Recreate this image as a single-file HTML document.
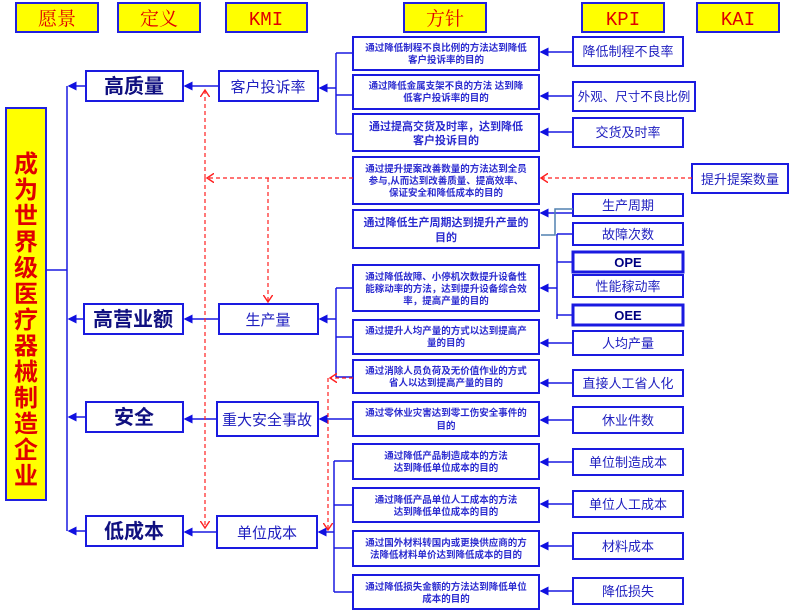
<!DOCTYPE html>
<html><head><meta charset="utf-8"><style>
body{margin:0;background:#fff}
svg{display:block}
text{font-family:"Liberation Sans","Noto Sans CJK SC",sans-serif}
.p{font-size:9.5px;fill:#2b2bd0;font-weight:bold;text-anchor:middle}
.k{font-size:13px;fill:#2020c0;text-anchor:middle}
.m{font-size:15px;fill:#2020c0;text-anchor:middle}
.d{font-size:20px;fill:#101080;font-weight:bold;text-anchor:middle}
.h{font-size:19px;fill:#e00000;text-anchor:middle;font-family:"Liberation Mono","Noto Serif CJK SC",serif}
</style></head><body>
<svg width="793" height="614" viewBox="0 0 793 614">
<defs>
<marker id="a" markerWidth="6" markerHeight="6" refX="5" refY="3" orient="auto"><path d="M0,0 L6,3 L0,6z" fill="#1010e0"/></marker>
<marker id="r" markerWidth="8" markerHeight="8" refX="6" refY="4" orient="auto"><path d="M0,0 L6,4 L0,8" fill="none" stroke="#ff2020" stroke-width="1.2"/></marker>
</defs>
<g fill="#ffff00" stroke="#2020e0" stroke-width="2">
<rect x="16" y="3" width="82" height="29"/><rect x="118" y="3" width="82" height="29"/><rect x="226" y="3" width="81" height="29"/><rect x="404" y="3" width="82" height="29"/><rect x="582" y="3" width="82" height="29"/><rect x="697" y="3" width="82" height="29"/>
<rect x="6" y="108" width="40" height="392"/>
</g>
<text class="h" x="57" y="25">愿景</text><text class="h" x="159" y="25">定义</text><text class="h" x="266" y="25">KMI</text><text class="h" x="445" y="25">方针</text><text class="h" x="623" y="25">KPI</text><text class="h" x="738" y="25">KAI</text>
<g style="font-size:24px;fill:#e00000;font-weight:bold" text-anchor="middle">
<text x="26" y="172">成</text><text x="26" y="198">为</text><text x="26" y="224">世</text><text x="26" y="250">界</text><text x="26" y="276">级</text><text x="26" y="302">医</text><text x="26" y="328">疗</text><text x="26" y="354">器</text><text x="26" y="380">械</text><text x="26" y="406">制</text><text x="26" y="432">造</text><text x="26" y="458">企</text><text x="26" y="484">业</text>
</g>
<g fill="#fff" stroke="#1a1ae0" stroke-width="2">
<rect x="86" y="71" width="97" height="30"/><rect x="84" y="304" width="99" height="30"/><rect x="86" y="402" width="97" height="30"/><rect x="86" y="516" width="97" height="30"/>
<rect x="219" y="71" width="99" height="30"/><rect x="219" y="304" width="99" height="30"/><rect x="217" y="402" width="101" height="34"/><rect x="217" y="516" width="100" height="32"/>
<rect x="353" y="37" width="186" height="33"/><rect x="353" y="75" width="186" height="34"/><rect x="353" y="114" width="186" height="37"/><rect x="353" y="157" width="186" height="47"/><rect x="353" y="210" width="186" height="38"/><rect x="353" y="265" width="186" height="46"/><rect x="353" y="320" width="186" height="34"/><rect x="353" y="360" width="186" height="33"/><rect x="353" y="402" width="186" height="34"/><rect x="353" y="444" width="186" height="35"/><rect x="353" y="488" width="186" height="34"/><rect x="353" y="531" width="186" height="35"/><rect x="353" y="575" width="186" height="34"/>
<rect x="573" y="37" width="110" height="29"/><rect x="573" y="82" width="122" height="29"/><rect x="573" y="118" width="110" height="29"/><rect x="573" y="194" width="110" height="22"/><rect x="573" y="223" width="110" height="22"/><rect x="573" y="252" width="110" height="20" stroke-width="3"/><rect x="573" y="275" width="110" height="22"/><rect x="573" y="305" width="110" height="20" stroke-width="3"/><rect x="573" y="331" width="110" height="24"/><rect x="573" y="370" width="110" height="26"/><rect x="573" y="407" width="110" height="26"/><rect x="573" y="449" width="110" height="26"/><rect x="573" y="491" width="110" height="26"/><rect x="573" y="533" width="110" height="26"/><rect x="573" y="578" width="110" height="26"/>
<rect x="692" y="164" width="96" height="29"/>
</g>
<text class="d" x="134" y="93">高质量</text><text class="d" x="133" y="326">高营业额</text><text class="d" x="134" y="424">安全</text><text class="d" x="134" y="538">低成本</text>
<text class="m" x="268" y="92">客户投诉率</text><text class="m" x="268" y="325">生产量</text><text class="m" x="267" y="425">重大安全事故</text><text class="m" x="267" y="538">单位成本</text>
<g class="p">
<text x="446" y="51">通过降低制程不良比例的方法达到降低</text><text x="446" y="63">客户投诉率的目的</text>
<text x="446" y="89">通过降低金属支架不良的方法 达到降</text><text x="446" y="101">低客户投诉率的目的</text>
<text x="446" y="130" style="font-size:11px">通过提高交货及时率，达到降低</text><text x="446" y="144" style="font-size:11px">客户投诉目的</text>
<text x="446" y="172">通过提升提案改善数量的方法达到全员</text><text x="446" y="184">参与,从而达到改善质量、提高效率、</text><text x="446" y="196">保证安全和降低成本的目的</text>
<text x="446" y="226" style="font-size:11px">通过降低生产周期达到提升产量的</text><text x="446" y="241" style="font-size:11px">目的</text>
<text x="446" y="280">通过降低故障、小停机次数提升设备性</text><text x="446" y="292">能稼动率的方法，达到提升设备综合效</text><text x="446" y="304">率，提高产量的目的</text>
<text x="446" y="334">通过提升人均产量的方式以达到提高产</text><text x="446" y="346">量的目的</text>
<text x="446" y="374">通过消除人员负荷及无价值作业的方式</text><text x="446" y="386">省人以达到提高产量的目的</text>
<text x="446" y="416">通过零休业灾害达到零工伤安全事件的</text><text x="446" y="429">目的</text>
<text x="446" y="459">通过降低产品制造成本的方法</text><text x="446" y="471">达到降低单位成本的目的</text>
<text x="446" y="503">通过降低产品单位人工成本的方法</text><text x="446" y="515">达到降低单位成本的目的</text>
<text x="446" y="546">通过国外材料转国内或更换供应商的方</text><text x="446" y="558">法降低材料单价达到降低成本的目的</text>
<text x="446" y="590">通过降低损失金额的方法达到降低单位</text><text x="446" y="602">成本的目的</text>
</g>
<g class="k">
<text x="628" y="56">降低制程不良率</text><text x="634" y="101" style="font-size:12.5px">外观、尺寸不良比例</text><text x="628" y="137">交货及时率</text><text x="628" y="210">生产周期</text><text x="628" y="239">故障次数</text>
<text x="628" y="267" style="font-weight:bold;fill:#000080">OPE</text><text x="628" y="291">性能稼动率</text><text x="628" y="320" style="font-weight:bold;fill:#000080">OEE</text>
<text x="628" y="348">人均产量</text><text x="628" y="388">直接人工省人化</text><text x="628" y="425">休业件数</text><text x="628" y="467">单位制造成本</text><text x="628" y="509">单位人工成本</text><text x="628" y="551">材料成本</text><text x="628" y="596">降低损失</text><text x="740" y="184">提升提案数量</text>
</g>
<g stroke="#1a1ae0" stroke-width="1.5" fill="none">
<path d="M46,270 H67 M67,86 V531"/>
<path d="M86,86 H69" marker-end="url(#a)"/><path d="M84,319 H69" marker-end="url(#a)"/><path d="M86,417 H69" marker-end="url(#a)"/><path d="M86,531 H69" marker-end="url(#a)"/>
<path d="M219,86 H185" marker-end="url(#a)"/><path d="M219,319 H185" marker-end="url(#a)"/><path d="M217,419 H185" marker-end="url(#a)"/><path d="M217,532 H185" marker-end="url(#a)"/>
<path d="M336,53 V134 M353,53 H336 M353,95 H336 M353,134 H336"/><path d="M336,88 H320" marker-end="url(#a)"/>
<path d="M336,288 V377 M353,288 H336 M353,337 H336 M353,377 H336"/><path d="M336,319 H320" marker-end="url(#a)"/>
<path d="M353,419 H320" marker-end="url(#a)"/>
<path d="M334,461 V592 M353,461 H334 M353,505 H334 M353,548 H334 M353,592 H334"/><path d="M334,532 H319" marker-end="url(#a)"/>
<path d="M573,52 H541" marker-end="url(#a)"/><path d="M573,96 H541" marker-end="url(#a)"/><path d="M573,132 H541" marker-end="url(#a)"/>
<path d="M557,234 V319 M573,234 H557 M573,262 H557 M573,315 H557"/><path d="M557,288 H541" marker-end="url(#a)"/>
<path d="M573,343 H541" marker-end="url(#a)"/><path d="M573,383 H541" marker-end="url(#a)"/><path d="M573,420 H541" marker-end="url(#a)"/><path d="M573,462 H541" marker-end="url(#a)"/><path d="M573,504 H541" marker-end="url(#a)"/><path d="M573,546 H541" marker-end="url(#a)"/><path d="M573,591 H541" marker-end="url(#a)"/>
<path d="M573,213 H541" marker-end="url(#a)"/>
</g>
<path d="M573,209 H555 V235 H541" stroke="#5080b0" stroke-width="1.5" fill="none"/>
<g stroke="#ff2020" stroke-width="1.2" stroke-dasharray="4,3" fill="none">
<path d="M692,178 H541" marker-end="url(#r)"/>
<path d="M353,178 H207" marker-end="url(#r)"/>
<path d="M205,178 V90" marker-end="url(#r)"/>
<path d="M205,178 V528" marker-end="url(#r)"/>
<path d="M268,178 V302" marker-end="url(#r)"/>
<path d="M353,378 H330" marker-end="url(#r)"/>
<path d="M328,378 V530" marker-end="url(#r)"/>
</g>
</svg>
</body></html>
